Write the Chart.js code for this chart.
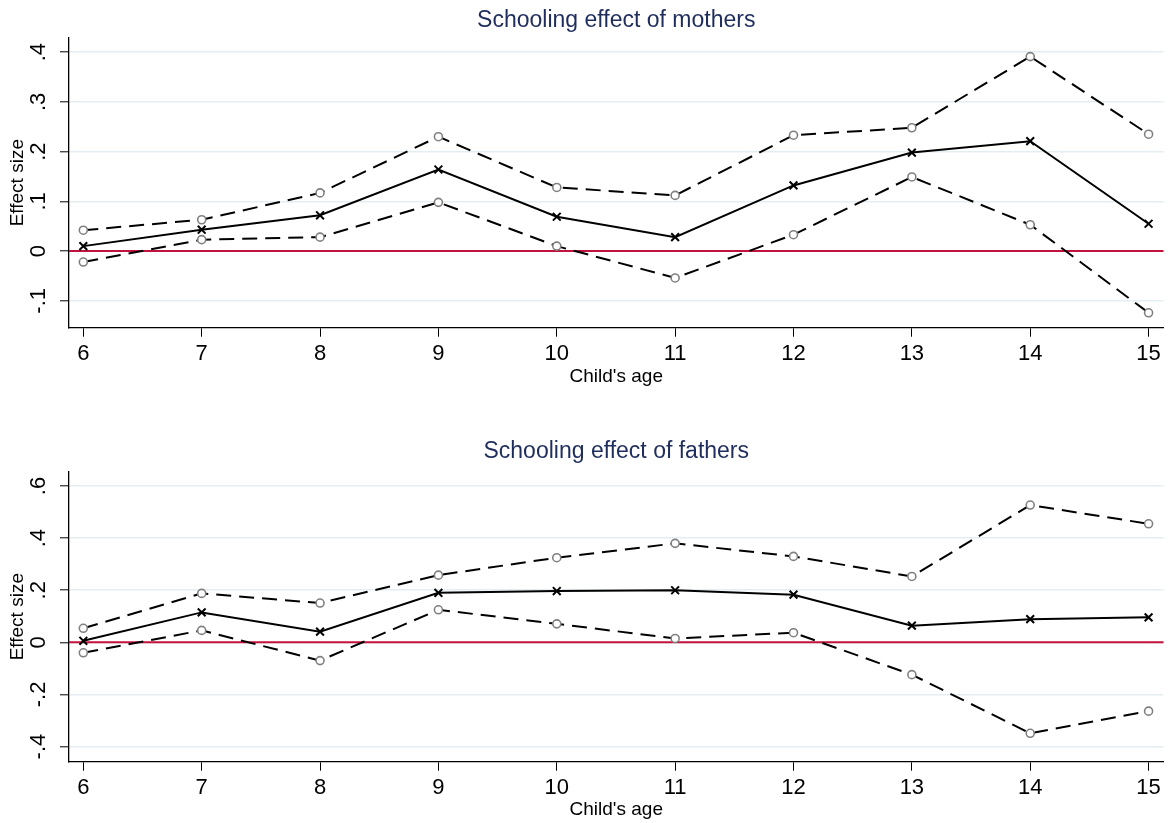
<!DOCTYPE html>
<html>
<head>
<meta charset="utf-8">
<script src="https://cdn.jsdelivr.net/npm/chart.js@4"></script>
<style>
  html, body { margin: 0; padding: 0; background: #fff; }
  body { width: 1171px; height: 823px; position: relative; overflow: hidden; }
  canvas { position: absolute; left: 0; }
  #grafMadres { top: 0; }
  #grafPadres { top: 430px; }
</style>
</head>
<body>
<canvas id="grafMadres" width="1171" height="430"></canvas>
<canvas id="grafPadres" width="1171" height="393"></canvas>
<script>
// --- DATOS ---
const edades = [6, 7, 8, 9, 10, 11, 12, 13, 14, 15];
const rangoEdad = [5.879, 15.126];

// Madres
const madresEfecto = [0.010, 0.043, 0.072, 0.164, 0.069, 0.028, 0.132, 0.198, 0.221, 0.055];
const madresSup    = [0.042, 0.063, 0.117, 0.230, 0.128, 0.112, 0.233, 0.248, 0.391, 0.235];
const madresInf    = [-0.022, 0.023, 0.028, 0.098, 0.010, -0.054, 0.033, 0.149, 0.053, -0.124];
const madresEje    = [-0.154, 0.429];
const madresPaso   = 0.1;

// Padres
const padresEfecto = [0.006, 0.115, 0.041, 0.190, 0.197, 0.200, 0.183, 0.064, 0.089, 0.096];
const padresSup    = [0.054, 0.188, 0.151, 0.258, 0.325, 0.380, 0.330, 0.253, 0.527, 0.455];
const padresInf    = [-0.040, 0.046, -0.070, 0.125, 0.071, 0.015, 0.037, -0.124, -0.349, -0.264];
const padresEje    = [-0.458, 0.655];
const padresPaso   = 0.2;

const fuente = "'Liberation Sans', Arial, Helvetica, sans-serif";

// línea roja en cero
const lineaCero = {
    id: 'lineaCero',
    beforeDatasetsDraw(chart) {
        const { ctx, chartArea, scales } = chart;
        const y = scales.y.getPixelForValue(0);
        ctx.save();
        ctx.strokeStyle = '#c4123e';
        ctx.lineWidth = 2;
        ctx.beginPath();
        ctx.moveTo(chartArea.left, y);
        ctx.lineTo(chartArea.right, y);
        ctx.stroke();
        ctx.restore();
    }
};

// etiquetas estilo Stata: ".4", "-.1", "0"
function etiquetaY(v) {
    const n = Math.round(v * 10) / 10;
    if (n === 0) return '0';
    return n.toFixed(1).replace('0.', '.');
}

function puntos(valores) {
    return edades.map((e, i) => ({ x: e, y: valores[i] }));
}

function crearGrafico(id, titulo, efecto, sup, inf, eje, paso, disp) {
    const ctx = document.getElementById(id).getContext('2d');
    const banda = (valores) => ({
        data: puntos(valores),
        borderColor: '#000',
        borderWidth: 2,
        borderDash: [15, 8],
        pointStyle: 'circle',
        pointRadius: 4,
        pointBorderColor: '#808080',
        pointBackgroundColor: '#fff',
        pointBorderWidth: 1.6,
        tension: 0
    });
    return new Chart(ctx, {
        type: 'line',
        data: {
            datasets: [
                {
                    data: puntos(efecto),
                    borderColor: '#000',
                    borderWidth: 2,
                    pointStyle: 'crossRot',
                    pointRadius: 5.5,
                    pointBorderColor: '#000',
                    pointBorderWidth: 2,
                    tension: 0
                },
                banda(sup),
                banda(inf)
            ]
        },
        options: {
            responsive: false,
            animation: false,
            devicePixelRatio: 1,
            layout: { padding: { left: 0, right: 6, top: 0, bottom: 0 } },
            plugins: {
                legend: { display: false },
                tooltip: { enabled: false },
                title: {
                    display: true,
                    fullSize: false,
                    text: titulo,
                    color: '#1f2d5c',
                    font: { family: fuente, size: 23, weight: 'normal' },
                    padding: { top: disp.tituloArriba, bottom: disp.tituloAbajo }
                }
            },
            scales: {
                x: {
                    type: 'linear',
                    min: rangoEdad[0],
                    max: rangoEdad[1],
                    afterFit(s) {
                        s.height = disp.altoX;
                        s.paddingLeft = 0;
                        s.paddingRight = 0;
                    },
                    ticks: {
                        stepSize: 1,
                        includeBounds: false,
                        color: '#000',
                        padding: 4,
                        maxRotation: 0,
                        font: { family: fuente, size: 22 }
                    },
                    grid: {
                        drawOnChartArea: false,
                        drawTicks: true,
                        tickLength: 9,
                        tickColor: '#000',
                        tickWidth: 1
                    },
                    border: { display: true, color: '#000', width: 1.3 },
                    title: {
                        display: true,
                        text: "Child's age",
                        color: '#000',
                        font: { family: fuente, size: 19 },
                        padding: { top: 0, bottom: disp.tituloX }
                    }
                },
                y: {
                    type: 'linear',
                    min: eje[0],
                    max: eje[1],
                    afterFit(s) {
                        s.width = 69;
                        s.paddingTop = 0;
                        s.paddingBottom = 0;
                    },
                    ticks: {
                        stepSize: paso,
                        includeBounds: false,
                        color: '#000',
                        padding: 8,
                        minRotation: 90,
                        maxRotation: 90,
                        crossAlign: 'center',
                        font: { family: fuente, size: 22 },
                        callback: etiquetaY
                    },
                    grid: {
                        color: '#e4edf1',
                        lineWidth: 1.6,
                        tickLength: 9,
                        tickColor: '#000',
                        tickWidth: 1
                    },
                    border: { display: true, color: '#000', width: 1.3 },
                    title: {
                        display: true,
                        text: 'Effect size',
                        color: '#000',
                        font: { family: fuente, size: 19 },
                        padding: { top: 6.6, bottom: 0 }
                    }
                }
            }
        },
        plugins: [lineaCero]
    });
}

document.addEventListener('DOMContentLoaded', function () {
    crearGrafico('grafMadres', 'Schooling effect of mothers',
        madresEfecto, madresSup, madresInf, madresEje, madresPaso,
        { tituloArriba: 7.2, tituloAbajo: 2.9, altoX: 102.3, tituloX: 41.9 });

    crearGrafico('grafPadres', 'Schooling effect of fathers',
        padresEfecto, padresSup, padresInf, padresEje, padresPaso,
        { tituloArriba: 7.9, tituloAbajo: 6.2, altoX: 61.3, tituloX: 1.6 });
});
</script>
</body>
</html>
